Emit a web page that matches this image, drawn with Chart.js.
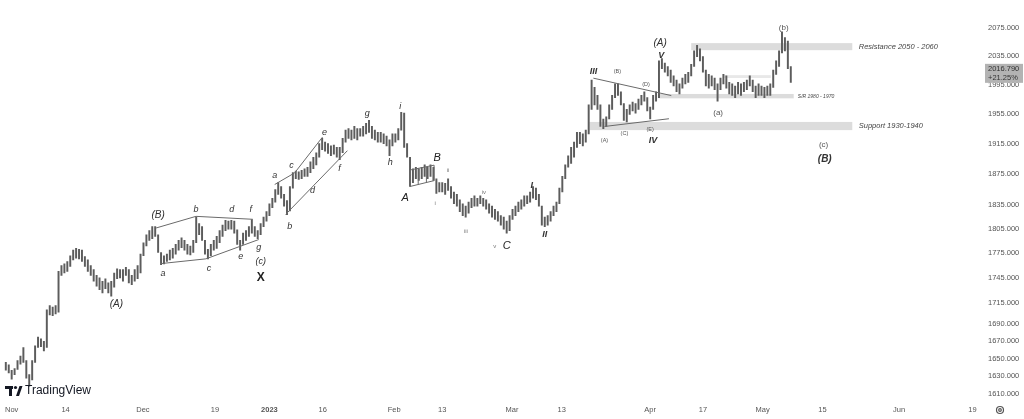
<!DOCTYPE html>
<html lang="en">
<head>
<meta charset="UTF-8">
<title>Gold - Elliott wave count</title>
<script src="https://cdn.jsdelivr.net/npm/chart.js"></script>
<style>
  html, body { margin: 0; padding: 0; background: #fff; }
</style>
</head>
<body>
<canvas id="chart" width="1024" height="419"></canvas>
<script>
// x unit = trading days, Nov 1 2022 = 0; two bars per trading day
const barStart = -1;
const barStep = 0.5;

const highs = [
  1646,1643,1637,1639,1648,1653,1663,1648,1632,1648,
  1665,1675,1673,1670,1707,1712,1710,1712,1753,1760,
  1762,1765,1772,1779,1781,1780,1779,1771,1767,1760,
  1755,1748,1745,1741,1744,1739,1741,1751,1756,1755,
  1755,1758,1755,1748,1755,1760,1774,1788,1798,1803,
  1808,1808,1798,1776,1772,1774,1779,1781,1786,1791,
  1794,1791,1786,1784,1791,1820,1812,1808,1791,1780,
  1786,1791,1796,1803,1810,1816,1815,1816,1815,1804,
  1791,1800,1803,1808,1817,1808,1803,1812,1820,1827,
  1837,1844,1855,1864,1859,1849,1841,1859,1877,1879,
  1878,1880,1882,1884,1891,1897,1903,1915,1922,1917,
  1915,1912,1913,1910,1910,1922,1933,1935,1933,1938,
  1935,1935,1938,1942,1946,1938,1933,1930,1930,1928,
  1925,1920,1928,1928,1935,1957,1956,1915,1897,1882,
  1884,1882,1884,1887,1884,1887,1884,1869,1864,1864,
  1863,1869,1859,1852,1849,1842,1837,1834,1839,1844,
  1847,1844,1847,1844,1842,1837,1834,1830,1827,1822,
  1820,1815,1822,1830,1834,1839,1842,1847,1847,1852,
  1859,1857,1849,1834,1820,1822,1827,1834,1839,1857,
  1872,1887,1899,1910,1917,1930,1930,1928,1933,1967,
  2001,1991,1980,1967,1948,1951,1967,1980,1996,1996,
  1985,1969,1961,1967,1971,1969,1975,1980,1985,1977,
  1964,1980,1985,2028,2031,2025,2020,2015,2007,2001,
  1996,2004,2009,2012,2023,2042,2050,2045,2034,2015,
  2009,2007,2004,1996,2004,2009,2007,1998,1996,1993,
  1998,1996,1998,2001,2007,2001,1993,1996,1993,1991,
  1993,1996,2015,2028,2042,2069,2061,2056,2020
];
const lows = [
  1637,1634,1627,1632,1638,1644,1646,1628,1619,1626,
  1646,1663,1664,1659,1663,1701,1700,1702,1704,1748,
  1751,1753,1759,1767,1769,1768,1765,1759,1753,1748,
  1741,1735,1731,1727,1732,1727,1723,1734,1744,1745,
  1741,1748,1739,1737,1741,1744,1751,1772,1784,1791,
  1793,1796,1776,1761,1762,1765,1767,1769,1774,1779,
  1782,1779,1774,1773,1776,1788,1798,1791,1774,1768,
  1772,1779,1781,1788,1796,1803,1805,1805,1800,1786,
  1779,1786,1791,1796,1800,1796,1793,1798,1808,1815,
  1822,1832,1839,1849,1844,1834,1823,1828,1857,1869,
  1868,1869,1872,1872,1877,1882,1887,1897,1907,1905,
  1902,1899,1901,1897,1894,1903,1917,1922,1920,1922,
  1920,1925,1925,1928,1930,1922,1920,1917,1917,1915,
  1912,1899,1912,1917,1920,1933,1910,1897,1859,1864,
  1869,1867,1869,1872,1869,1872,1867,1850,1852,1852,
  1849,1854,1844,1837,1834,1827,1822,1820,1825,1832,
  1834,1834,1837,1834,1830,1825,1820,1817,1815,1810,
  1805,1800,1803,1817,1822,1827,1830,1834,1837,1839,
  1844,1842,1834,1810,1808,1810,1815,1822,1827,1837,
  1852,1869,1884,1889,1897,1910,1915,1912,1917,1928,
  1961,1967,1961,1938,1935,1938,1948,1961,1977,1980,
  1967,1946,1944,1954,1959,1956,1961,1967,1972,1959,
  1948,1961,1972,1977,2017,2012,2007,1998,1993,1985,
  1982,1990,1996,1998,2007,2020,2034,2028,2012,1993,
  1990,1993,1988,1972,1988,1996,1990,1982,1980,1977,
  1982,1980,1985,1988,1993,1985,1977,1980,1980,1977,
  1980,1980,1991,2009,2020,2039,2042,2017,1998
];

const tickDays = [0, 9.2, 22.4, 34.7, 44, 53.1, 65.3, 73.5, 85.4, 93.9, 109, 118, 128.2, 138.4, 151.5, 164];
const tickLabels = ['Nov', '14', 'Dec', '19', '2023', '16', 'Feb', '13', 'Mar', '13', 'Apr', '17', 'May', '15', 'Jun', '19'];
const priceTicks = [1610, 1630, 1650, 1670, 1690, 1715, 1745, 1775, 1805, 1835, 1875, 1915, 1955, 1995, 2035, 2075];
const lastPrice = 2016.79;
const lastChange = '+21.25%';

// zones: [from day, to day, low price, high price]
const zones = [
  [116.0, 143.5, 2043, 2053],
  [110.4, 133.5, 1976, 1982],
  [98.6, 143.5, 1933, 1944],
  [121.4, 129.6, 2004, 2008]
];
const zoneTexts = [
  ['Resistance 2050 - 2060', 144.6, 2047.5, 'italic 7.5px'],
  ['S/R 1980 - 1970', 134.2, 1978, 'italic 5px'],
  ['Support 1930-1940', 144.6, 1938.5, 'italic 7.5px']
];

// trend lines: list of [day, price] points
const trendLines = [
  [[24.66, 1806.4], [31.46, 1821], [41.16, 1817.3]],
  [[25.34, 1762.3], [33.16, 1768.2], [42.18, 1792]],
  [[44.9, 1861.6], [48.3, 1876.6], [53.06, 1923.7]],
  [[46.77, 1823.4], [57.31, 1905.7]],
  [[68.03, 1880.4], [72.11, 1886.7], [72.11, 1866.6], [68.03, 1859.1], [68.03, 1880.4]],
  [[69.4, 1882.6], [69.4, 1861.6]],
  [[70.8, 1884.6], [70.8, 1864.1]],
  [[99.3, 2003.8], [112.6, 1979.8]],
  [[101.2, 1937.9], [112.2, 1948.3]]
];

// wave labels: [text, day, price, font, colour]
const waveLabels = [
  ['(A)', 17.86, 1713.4, 'italic 10px', '#333'],
  ['(B)', 25.0, 1822.2, 'italic 10px', '#333'],
  ['a', 25.85, 1750.5, 'italic 9px', '#333'],
  ['b', 31.46, 1829.5, 'italic 9px', '#333'],
  ['c', 33.67, 1756.4, 'italic 9px', '#333'],
  ['d', 37.59, 1829.5, 'italic 9px', '#333'],
  ['e', 39.12, 1770.6, 'italic 9px', '#333'],
  ['f', 40.82, 1829.5, 'italic 9px', '#333'],
  ['g', 42.18, 1782.4, 'italic 9px', '#333'],
  ['(c)', 42.52, 1764.7, 'italic 9px', '#333'],
  ['X', 42.52, 1744.7, 'bold 12px', '#222'],
  ['a', 44.9, 1872.9, 'italic 9px', '#333'],
  ['c', 47.79, 1886.7, 'italic 9px', '#333'],
  ['e', 53.40, 1930.1, 'italic 9px', '#333'],
  ['b', 47.45, 1808.8, 'italic 9px', '#333'],
  ['d', 51.36, 1854.2, 'italic 9px', '#333'],
  ['f', 55.95, 1881.7, 'italic 9px', '#333'],
  ['g', 60.71, 1954.8, 'italic 9px', '#333'],
  ['h', 64.63, 1890.5, 'italic 9px', '#333'],
  ['i', 66.33, 1965.3, 'italic 9px', '#333'],
  ['A', 67.18, 1844.2, 'italic 11px', '#222'],
  ['B', 72.62, 1896.8, 'italic 11px', '#222'],
  ['i', 72.28, 1838.1, '6px', '#777'],
  ['ii', 74.49, 1880.4, '6px', '#777'],
  ['iii', 77.55, 1802.8, '6px', '#777'],
  ['iv', 80.61, 1851.7, '6px', '#777'],
  ['v', 82.48, 1783.6, '6px', '#777'],
  ['C', 84.52, 1783.6, 'italic 11px', '#222'],
  ['I', 88.78, 1860.4, 'bold italic 9px', '#333'],
  ['II', 90.99, 1798, 'bold italic 9px', '#333'],
  ['III', 99.32, 2013.3, 'bold italic 9px', '#333'],
  ['(B)', 103.4, 2013.3, '5.5px', '#555'],
  ['(D)', 108.3, 1995.7, '5.5px', '#555'],
  ['(A)', 101.2, 1919.8, '5.5px', '#555'],
  ['(C)', 104.6, 1928.8, '5.5px', '#555'],
  ['(E)', 109.0, 1934.0, '5.5px', '#555'],
  ['IV', 109.5, 1918.6, 'bold italic 9px', '#333'],
  ['V', 110.9, 2035, 'bold italic 9px', '#333'],
  ['(A)', 110.7, 2052.9, 'italic 10px', '#333'],
  ['(a)', 120.6, 1956.1, '8px', '#555'],
  ['(b)', 131.8, 2075, '8px', '#555'],
  ['(c)', 138.6, 1913.4, '8px', '#555'],
  ['(B)', 138.8, 1894.3, 'bold italic 10px', '#333']
];

const family = "'Liberation Sans', Arial, sans-serif";

const bars = highs.map((h, i) => ({ x: barStart + i * barStep, y: [lows[i], h] }));

const overlay = {
  id: 'overlay',
  beforeDatasetsDraw(chart) {
    const { ctx, scales: { x, y } } = chart;
    ctx.save();
    zones.forEach((z, i) => {
      ctx.fillStyle = i === 3 ? '#e8e8e8' : '#dcdcdc';
      const x0 = x.getPixelForValue(z[0]), x1 = x.getPixelForValue(z[1]);
      const y0 = y.getPixelForValue(z[3]), y1 = y.getPixelForValue(z[2]);
      ctx.fillRect(x0, y0, x1 - x0, y1 - y0);
    });
    ctx.restore();
  },
  afterDatasetsDraw(chart) {
    const { ctx, scales: { x, y } } = chart;
    ctx.save();
    ctx.strokeStyle = '#6a6a6a';
    ctx.lineWidth = 1;
    trendLines.forEach(pts => {
      ctx.beginPath();
      pts.forEach((p, i) => {
        const px = x.getPixelForValue(p[0]), py = y.getPixelForValue(p[1]);
        if (i === 0) ctx.moveTo(px, py); else ctx.lineTo(px, py);
      });
      ctx.stroke();
    });
    ctx.textAlign = 'center';
    ctx.textBaseline = 'middle';
    waveLabels.forEach(l => {
      ctx.font = l[3] + ' ' + family;
      ctx.fillStyle = l[4];
      ctx.fillText(l[0], x.getPixelForValue(l[1]), y.getPixelForValue(l[2]));
    });
    ctx.textAlign = 'left';
    zoneTexts.forEach(t => {
      ctx.font = t[3] + ' ' + family;
      ctx.fillStyle = '#444';
      ctx.fillText(t[0], x.getPixelForValue(t[1]), y.getPixelForValue(t[2]));
    });
    ctx.restore();
  },
  afterDraw(chart) {
    const { ctx, chartArea, scales: { y } } = chart;
    ctx.save();
    // last price tag
    const py = y.getPixelForValue(lastPrice);
    ctx.fillStyle = '#b3b3b3';
    ctx.fillRect(chartArea.right + 5, py - 5, 38, 19);
    ctx.fillStyle = '#333';
    ctx.font = '7.5px ' + family;
    ctx.textAlign = 'left';
    ctx.textBaseline = 'middle';
    ctx.fillText(lastPrice.toFixed(3), chartArea.right + 8, py);
    ctx.fillText(lastChange, chartArea.right + 8, py + 9);
    // TradingView mark
    ctx.fillStyle = '#131722';
    ctx.fillRect(5, 386, 8, 3);
    ctx.fillRect(9, 386, 3, 10);
    ctx.beginPath();
    ctx.arc(15.5, 387.5, 1.6, 0, Math.PI * 2);
    ctx.fill();
    ctx.beginPath();
    ctx.moveTo(16, 396); ctx.lineTo(19.5, 386); ctx.lineTo(22.5, 386); ctx.lineTo(19, 396);
    ctx.closePath();
    ctx.fill();
    ctx.font = '12px ' + family;
    ctx.fillText('TradingView', 25, 391);
    // settings gear
    ctx.strokeStyle = '#555';
    ctx.lineWidth = 1.2;
    ctx.beginPath();
    ctx.arc(1000, 410, 3.5, 0, Math.PI * 2);
    ctx.stroke();
    ctx.beginPath();
    ctx.arc(1000, 410, 1.3, 0, Math.PI * 2);
    ctx.stroke();
    ctx.restore();
  }
};

new Chart(document.getElementById('chart'), {
  type: 'bar',
  data: {
    datasets: [{
      data: bars,
      backgroundColor: '#5c5c5c',
      borderWidth: 0,
      barThickness: 1.3,
      grouped: false
    }]
  },
  options: {
    responsive: false,
    devicePixelRatio: 1,
    animation: false,
    layout: { padding: 0 },
    plugins: { legend: { display: false }, tooltip: { enabled: false } },
    scales: {
      x: {
        type: 'linear',
        min: -1.36,
        max: 165.3,
        offset: false,
        grid: { display: false, drawTicks: false },
        border: { display: false },
        afterBuildTicks: axis => { axis.ticks = tickDays.map(v => ({ value: v })); },
        afterFit: axis => { axis.height = 19; },
        ticks: {
          autoSkip: false,
          maxRotation: 0,
          padding: 5,
          color: '#555',
          font: ctx => ({ family: family, size: 7.5, weight: ctx.index === 4 ? 'bold' : 'normal' }),
          callback: (v, i) => tickLabels[i]
        }
      },
      y: {
        type: 'logarithmic',
        position: 'right',
        min: 1603.6,
        max: 2097,
        grid: { display: false, drawTicks: false },
        border: { display: false },
        afterBuildTicks: axis => { axis.ticks = priceTicks.map(v => ({ value: v })); },
        afterFit: axis => { axis.width = 44; },
        ticks: {
          autoSkip: false,
          padding: 8,
          color: '#555',
          font: { family: family, size: 7.5 },
          callback: v => Number(v).toFixed(3)
        }
      }
    }
  },
  plugins: [overlay]
});
</script>
</body>
</html>
